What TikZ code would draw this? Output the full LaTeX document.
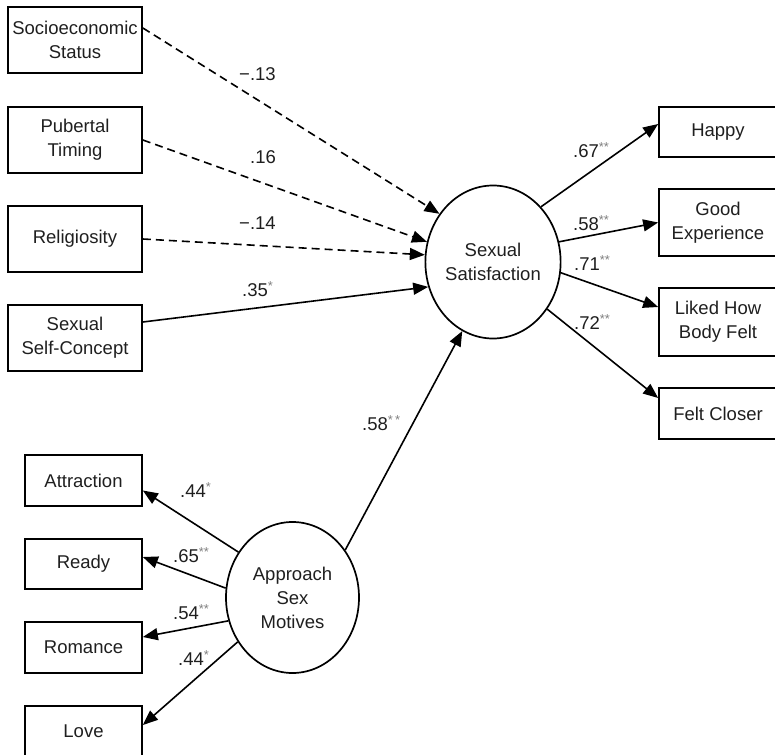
\documentclass[tikz,border=0pt]{standalone}
\usepackage{fontspec}
\setmainfont{Liberation Sans}
\usetikzlibrary{arrows.meta,calc,shapes.geometric}
\newcommand\sig[1]{\textsuperscript{\textcolor{black!50}{#1}}}
\begin{document}
\begin{tikzpicture}[x=1pt,y=-1pt,
  font=\fontsize{18.5}{24}\selectfont,
  box/.style={draw, line width=1.7pt, inner sep=0pt, align=center, text=black!88},
  lbox/.style={box, minimum width=134pt, minimum height=66pt},
  rbox/.style={box, minimum width=118pt},
  sbox/.style={box, minimum width=117pt},
  lat/.style={draw, ellipse, line width=1.7pt, inner sep=0pt, align=center, text=black!88},
  conn/.style={line width=1.6pt, -{Triangle[length=15pt,width=12pt]}},
  dconn/.style={conn, dash pattern=on 8pt off 5pt},
  lbl/.style={inner sep=0pt, anchor=west, text=black!88}]
\useasboundingbox (0,0) rectangle (775,754);
\clip (0,0) rectangle (775,754);

% exogenous boxes
\node[lbox] (ses) at (75,40)  {Socioeconomic\\Status};
\node[lbox] (pub) at (75,140) {Pubertal\\Timing};
\node[lbox] (rel) at (75,239) {Religiosity};
\node[lbox] (ssc) at (75,338) {Sexual\\Self-Concept};

% latent variables
\node[lat, minimum width=133pt, minimum height=153pt] (sat) at (493,262) {Sexual\\Satisfaction};
\node[lat, minimum width=133pt, minimum height=151pt] (app) at (292.5,597.5) {Approach\\Sex\\Motives};

% indicators of satisfaction
\node[rbox, minimum height=50pt] (happy) at (718,132)   {Happy};
\node[rbox, minimum height=67pt] (good)  at (718,222.5) {Good\\Experience};
\node[rbox, minimum height=68pt] (liked) at (718,322)   {Liked How\\Body Felt};
\node[rbox, minimum height=51pt] (felt)  at (718,413.5) {Felt Closer};

% indicators of motives
\node[sbox, minimum height=51pt] (attr)  at (83.5,480.5) {Attraction};
\node[sbox, minimum height=50pt] (ready) at (83.5,564)   {Ready};
\node[sbox, minimum height=51pt] (rom)   at (83.5,647.5) {Romance};
\node[sbox, minimum height=50pt] (love)  at (83.5,731)   {Love};

% predictors
\draw[dconn] ($(ses.east)+(0,-12)$) -- (sat.138.8);
\draw[dconn] (pub.east) -- (sat.163.1);
\draw[dconn] (rel.east) -- (sat.174.8);
\draw[conn]  ($(ssc.east)+(0,-16)$) -- (sat.201.5);
\draw[conn]  (app.42.8) -- (sat.246.4);

% satisfaction loadings
\draw[conn] (sat.49.6)  -- ($(happy.west)+(0,-8)$);
\draw[conn] (sat.17.9)  -- (good.west);
\draw[conn] (sat.-9.3)  -- ($(liked.west)+(0,-15)$);
\draw[conn] (sat.-41.1) -- ($(felt.west)+(0,-15.5)$);

% motive loadings
\draw[conn] (app.140.1) -- ($(attr.east)+(0,10)$);
\draw[conn] (app.172.7) -- ($(ready.east)+(0,-7)$);
\draw[conn] (app.200.2) -- ($(rom.east)+(0,-10.5)$);
\draw[conn] (app.219.9) -- ($(love.east)+(0,-6)$);

% labels
\node[lbl] (l1)  at (239,74)  {−.13};
\node[lbl] (l2)  at (250,157) {.16};
\node[lbl] (l3)  at (239,223) {−.14};
\node[lbl] (l4)  at (242,289) {.35\sig{*}};
\node[lbl] (l5)  at (573,150) {.67\sig{**}};
\node[lbl] (l6)  at (573,223) {.58\sig{**}};
\node[lbl] (l7)  at (574,263) {.71\sig{**}};
\node[lbl] (l8)  at (574,322) {.72\sig{**}};
\node[lbl] (l9)  at (362,423) {.58\sig{*\,*}};
\node[lbl] (l10) at (180,490) {.44\sig{*}};
\node[lbl] (l11) at (173,555) {.65\sig{**}};
\node[lbl] (l12) at (173,612) {.54\sig{**}};
\node[lbl] (l13) at (178,658) {.44\sig{*}};
\end{tikzpicture}
\end{document}
